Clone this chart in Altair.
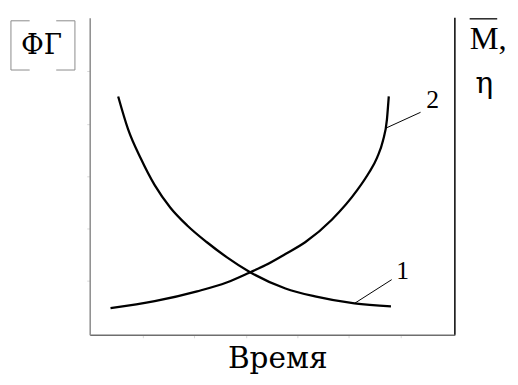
import altair as alt
import pandas as pd

# ---- data (time in % of axis, value in % of axis) ----
time_1 = [7.8, 10.5, 14.0, 17.8, 22.1, 26.7, 32.1, 37.5, 43.7, 53.6, 61.7, 72.5, 82.5]
val_1 = [75.2, 64.9, 55.6, 47.2, 40.1, 34.5, 29.2, 24.5, 19.9, 14.6, 12.1, 9.9, 9.0]

time_2 = [5.7, 17.8, 29.4, 37.5, 43.7, 48.2, 53.6, 59.0, 66.3, 73.3, 76.5, 78.7, 80.3, 81.4, 81.9]
val_2 = [8.4, 10.6, 13.7, 16.5, 19.6, 22.0, 25.5, 29.2, 36.3, 45.7, 51.2, 55.9, 61.2, 68.0, 75.2]

curve_names = ["1", "2"]
label_t = [85.7, 93.9]
label_v = [17.7, 71.7]
leader_t = [72.5, 81.1]
leader_v = [9.9, 65.2]
leader_t2 = [82.7, 90.6]
leader_v2 = [17.4, 70.2]

x_ticks = [14.6, 28.7, 42.8, 56.9, 71.0, 85.1]
y_ticks = [17.1, 33.6, 50.1, 66.6, 83.1]

FONT = "Liberation Serif"
FONT_CYR = "DejaVu Serif"
W, H = 371, 322

curves = pd.DataFrame({
    "t": time_1 + time_2,
    "v": val_1 + val_2,
    "curve": [curve_names[0]] * len(time_1) + [curve_names[1]] * len(time_2),
})
labels = pd.DataFrame({"t": label_t, "v": label_v, "txt": curve_names})
leaders = pd.DataFrame({"t": leader_t, "v": leader_v, "t2": leader_t2, "v2": leader_v2})

x_axis = alt.Axis(labels=False, title=None, grid=False, values=x_ticks,
                  domainColor="#6e6e6e", domainWidth=1.5,
                  tickColor="#d8d8d8", tickSize=3, tickWidth=1)
y_axis = alt.Axis(labels=False, title=None, grid=False, values=y_ticks,
                  domainColor="#8a8a8a", domainWidth=1.5,
                  tickColor="#d8d8d8", tickSize=3, tickWidth=1)
xs = alt.Scale(domain=[0, 100], nice=False, zero=False)
ys = alt.Scale(domain=[0, 100], nice=False, zero=False)

X = lambda f: alt.X(f, type="quantitative", scale=xs, axis=x_axis)
Y = lambda f: alt.Y(f, type="quantitative", scale=ys, axis=y_axis)

lines = alt.Chart(curves).mark_line(
    color="black", strokeWidth=2.3, interpolate="monotone"
).encode(x=X("t"), y=Y("v"), detail="curve:N")

leader = alt.Chart(leaders).mark_rule(color="black", strokeWidth=1).encode(
    x=X("t"), y=Y("v"), x2="t2:Q", y2="v2:Q"
)

lab = alt.Chart(labels).mark_text(
    font=FONT, fontSize=26, color="black", align="center", baseline="alphabetic"
).encode(x=X("t"), y=Y("v"), text="txt:N")

one = pd.DataFrame({"a": [0]})

right_border = alt.Chart(one).mark_rule(color="black", strokeWidth=1.5).encode(
    x=alt.value(W), y=alt.value(0), y2=alt.value(H)
)

def txt(s, px, py, size, align="center", font=FONT):
    return alt.Chart(one).mark_text(
        text=s, font=font, fontSize=size, color="black", align=align,
        baseline="alphabetic"
    ).encode(x=alt.value(px), y=alt.value(py))

def seg(x1, y1, x2, y2, color="#8a8a8a", w=1):
    return alt.Chart(one).mark_rule(color=color, strokeWidth=w).encode(
        x=alt.value(x1), x2=alt.value(x2), y=alt.value(y1), y2=alt.value(y2)
    )

# left title [ФГ]
fg = txt("ФГ", -49, 37, 28, font=FONT_CYR)
br = [
    seg(-80, 3, -80, 53), seg(-80, 3, -61, 3), seg(-80, 53, -61, 53),
    seg(-15, 3, -15, 53), seg(-34, 3, -15, 3), seg(-34, 53, -15, 53),
]
# right title M̄, η
m = txt("M,", 386, 32, 33, align="left")
over = seg(386, 1, 414, 1, color="black", w=1.3)
eta = txt("η", 401, 76, 30, font=FONT_CYR)
# x title
xt = txt("Время", 191, 356, 30, font=FONT_CYR)

chart = alt.layer(
    lines, leader, lab, right_border, fg, *br, m, over, eta, xt
).properties(
    width=W, height=H,
    padding={"left": 83, "top": 7, "right": 56, "bottom": 48},
    autosize=alt.AutoSizeParams(type="none"),
).configure_view(stroke=None)

chart.save("out.html", embed_options={"renderer": "svg", "actions": False})
